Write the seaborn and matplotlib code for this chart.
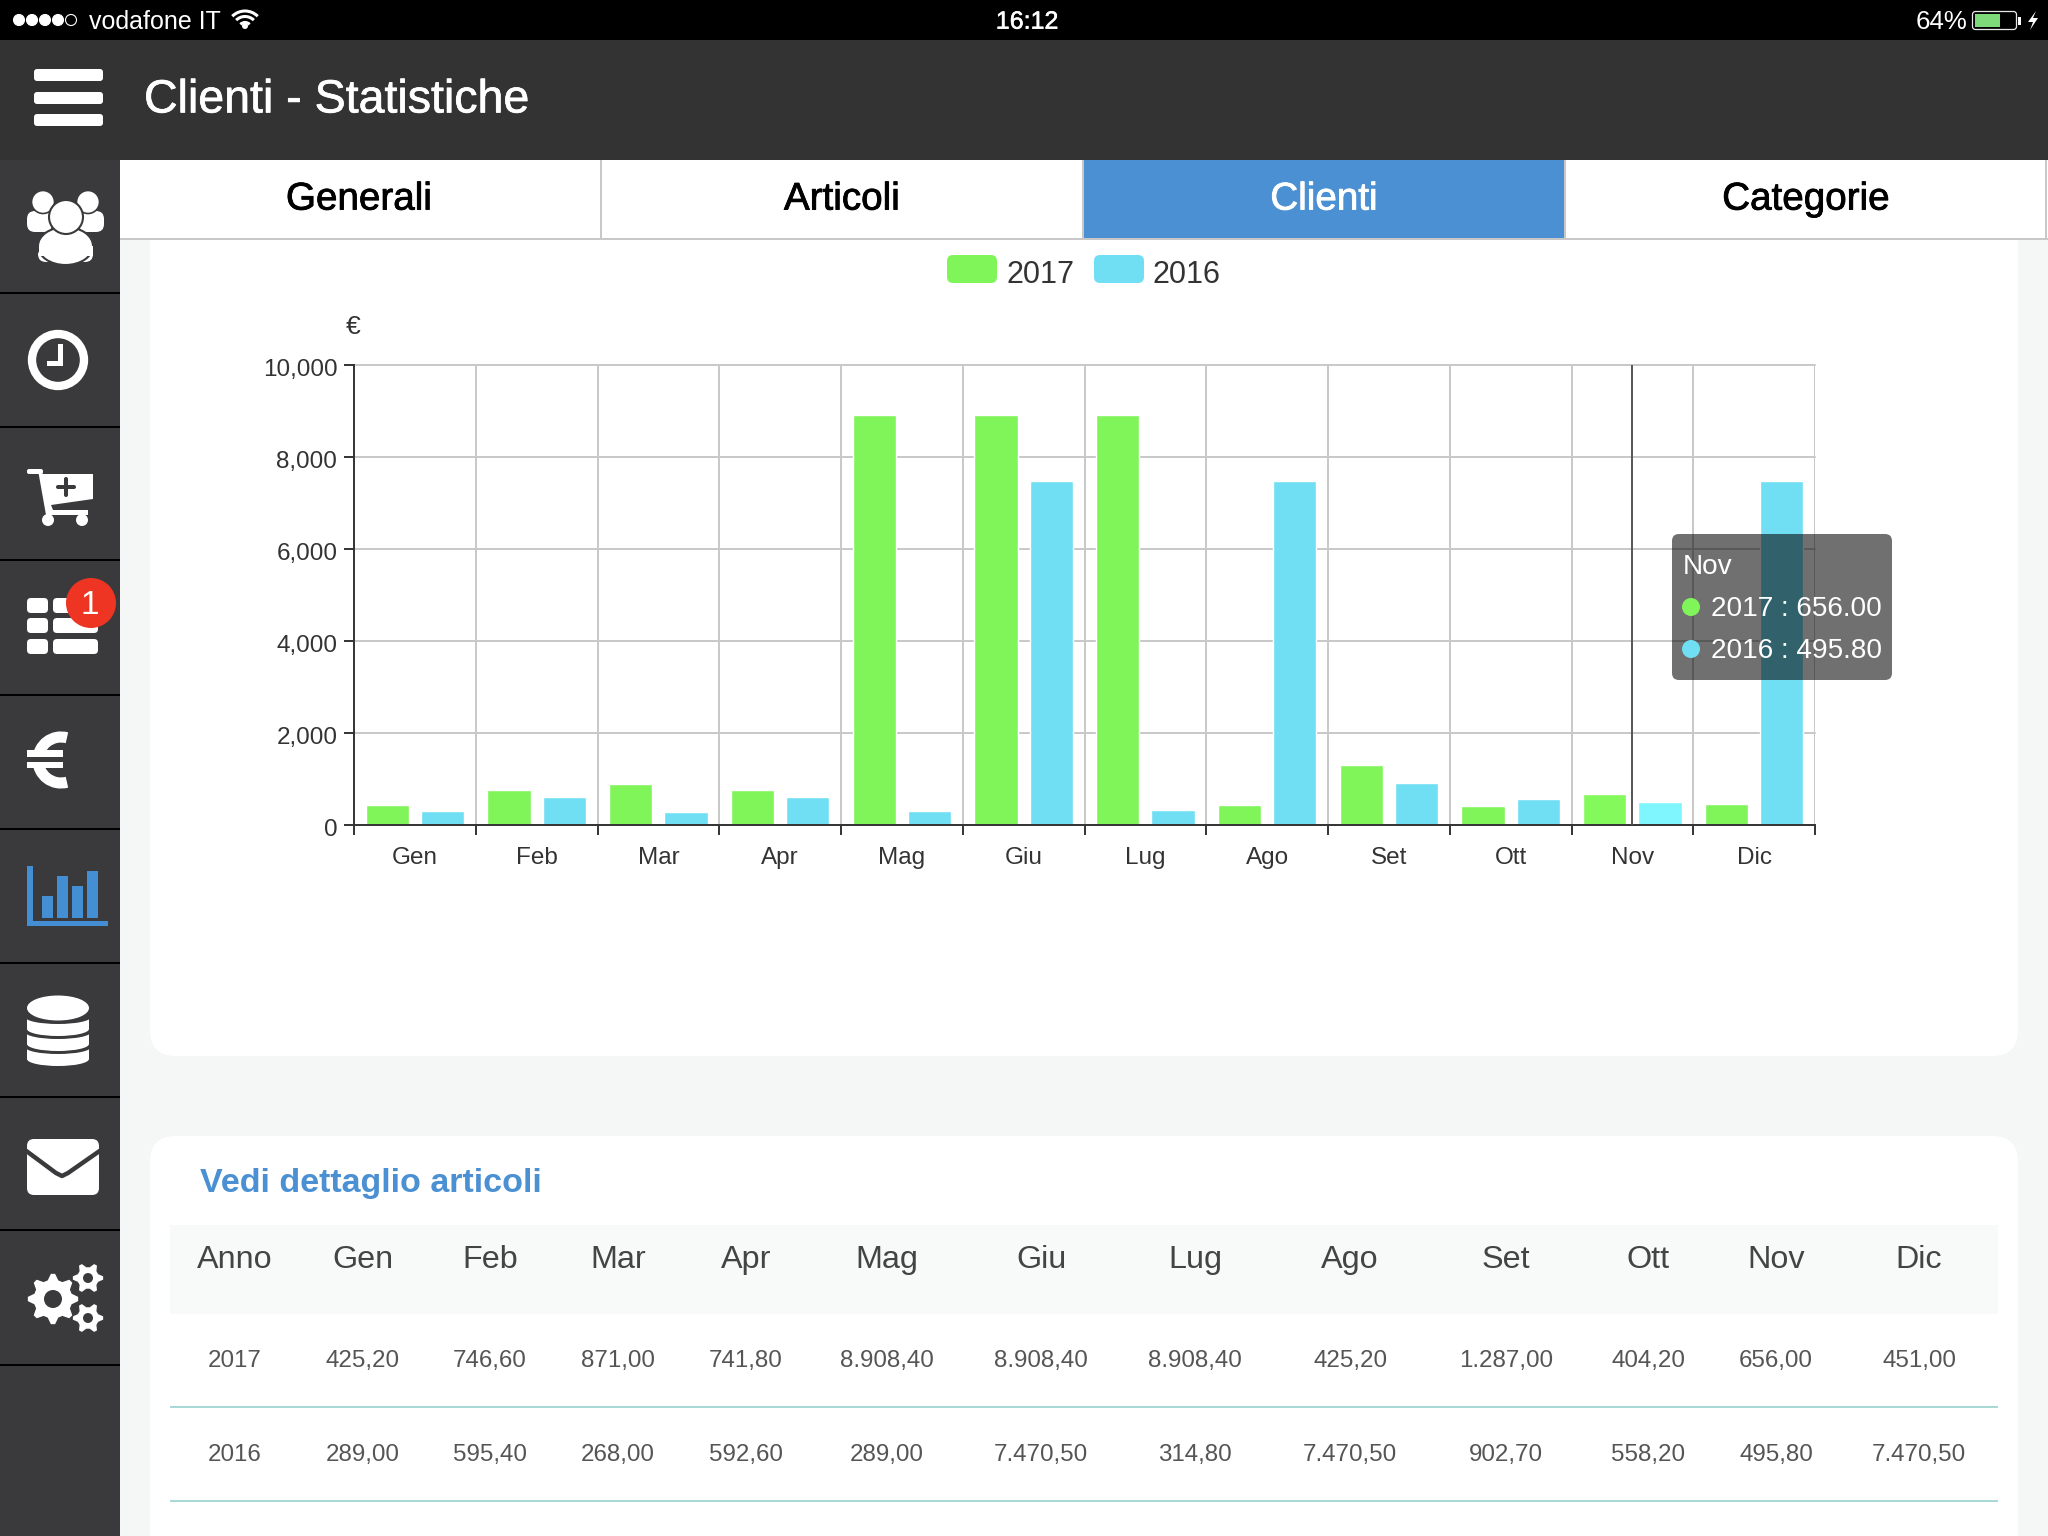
import numpy as np
import pandas as pd
import matplotlib
matplotlib.use("Agg")
import matplotlib.pyplot as plt
import matplotlib.patheffects as pe
import matplotlib.transforms as mtrans
from matplotlib.patches import Rectangle, FancyBboxPatch, Circle, Ellipse, Polygon, Arc
import seaborn as sns

# chart data
mesi = ["Gen", "Feb", "Mar", "Apr", "Mag", "Giu", "Lug", "Ago", "Set", "Ott", "Nov", "Dic"]
valori_2017 = [425.20, 746.60, 871.00, 741.80, 8908.40, 8908.40, 8908.40, 425.20, 1287.00, 404.20, 656.00, 451.00]
valori_2016 = [289.00, 595.40, 268.00, 592.60, 289.00, 7470.50, 314.80, 7470.50, 902.70, 558.20, 495.80, 7470.50]
y_ticks = [0, 2000, 4000, 6000, 8000, 10000]

# table text
intestazione = ["Anno"] + mesi
riga_2017 = ["2017", "425,20", "746,60", "871,00", "741,80", "8.908,40", "8.908,40", "8.908,40",
             "425,20", "1.287,00", "404,20", "656,00", "451,00"]
riga_2016 = ["2016", "289,00", "595,40", "268,00", "592,60", "289,00", "7.470,50", "314,80",
             "7.470,50", "902,70", "558,20", "495,80", "7.470,50"]
tab_labels = ["Generali", "Articoli", "Clienti", "Categorie"]

GREEN = "#80f55a"
BLUE = "#70dff3"
DARK = "#333333"
SIDE = "#3a3a3c"
ACCENT = "#4a90d2"

sns.set_theme(style="white")
plt.rcParams["font.family"] = ["Liberation Sans", "DejaVu Sans"]

W, H = 2048, 1536
fig = plt.figure(figsize=(W / 100, H / 100), dpi=100, facecolor="#f5f7f7")


def px_axes(zorder):
    a = fig.add_axes([0, 0, 1, 1], zorder=zorder)
    a.set_xlim(0, W)
    a.set_ylim(H, 0)
    a.axis("off")
    a.patch.set_alpha(0)
    return a


bg = px_axes(0)
top = px_axes(2)


def box(a, x0, y0, x1, y1, color, r=0, **kw):
    if r:
        a.add_patch(FancyBboxPatch((x0 + r, y0 + r), x1 - x0 - 2 * r, y1 - y0 - 2 * r,
                                   boxstyle=f"round,pad={r},rounding_size={r}",
                                   fc=color, ec="none", **kw))
    else:
        a.add_patch(Rectangle((x0, y0), x1 - x0, y1 - y0, fc=color, ec="none", **kw))


def txt(a, x, y, s, size, color="white", ha="left", stroke=0, **kw):
    # y is the middle of the capitals, so labels in one row line up
    base = y - 1.3 + 0.36 * size * 100 / 72
    t = a.text(x, base, s, fontsize=size, color=color, ha=ha, va="baseline", **kw)
    if stroke:
        t.set_path_effects([pe.withStroke(linewidth=stroke, foreground=color)])


# cards
box(bg, 150, 180, 2018, 1056, "white", r=26)
box(bg, 150, 1136, 2018, 1600, "white", r=26)

# status bar and header
box(top, 0, 0, W, 40, "black")
box(top, 0, 40, W, 160, DARK)
for i, cx in enumerate([19, 32, 45, 58, 71]):
    top.add_patch(Circle((cx, 20), 5.5, fc="white" if i < 4 else "black", ec="white", lw=0.8))
txt(top, 89, 21, "vodafone IT", 18)
top.add_patch(Circle((245, 26), 3, fc="white", ec="none"))
for d in [13, 25, 36]:
    top.add_patch(Arc((245, 29), d, d, theta1=225, theta2=315, ec="white", lw=2.2))
txt(top, 1027, 21, "16:12", 18, ha="center", stroke=0.4)
txt(top, 1916, 21, "64%", 18.6)
box(top, 1972, 11, 2017, 30, "black", r=3)
top.add_patch(FancyBboxPatch((1975, 14), 39, 13, boxstyle="round,pad=2.5,rounding_size=3", fc="none", ec="#e8e8e8", lw=0.9))
box(top, 1975, 14, 2000, 27, "#7ed97a")
box(top, 2018, 17, 2021, 25, "white")
top.add_patch(Polygon([[2036, 11], [2028, 22], [2033, 22], [2030, 30], [2038, 18], [2033, 18]], fc="white", ec="none"))

for y0 in [69, 92, 114]:
    box(top, 34, y0, 103, y0 + 12, "white", r=3)
txt(top, 144, 97, "Clienti - Statistiche", 33.5, stroke=0.5)

# tabs
box(top, 120, 160, W, 239, "white")
box(top, 1083, 160, 1565, 239, ACCENT)
box(top, 120, 238, W, 240, "#c8c8c8")
for x in [601, 1083, 1565, 2046]:
    box(top, x - 1, 160, x + 1, 239, "#c8c8c8")
for cx, lab in zip([359, 842, 1324, 1806], tab_labels):
    txt(top, cx, 197, lab, 27.8, "white" if lab == "Clienti" else "black", ha="center", stroke=0.6)

# sidebar
box(top, 0, 160, 120, H, SIDE)
for y in [293, 427, 560, 695, 829, 963, 1097, 1230, 1365]:
    box(top, 0, y - 1, 120, y + 1, "black")

# people
for x0, x1 in [(27, 52), (79, 104)]:
    box(top, x0, 211, x1, 232, "white", r=8)
for cx in [43, 88]:
    top.add_patch(Circle((cx, 202), 11.5, fc="white", ec=SIDE, lw=1.2))
box(top, 38, 236, 93, 262, "white", r=8)
top.add_patch(Ellipse((65.5, 246), 55, 38, fc="white", ec=SIDE, lw=1.5))
box(top, 38.5, 246, 92.5, 256, "white")
top.add_patch(Circle((66, 217), 17, fc="white", ec=SIDE, lw=1.5))

# clock
top.add_patch(Circle((58, 360), 26, fc="none", ec="white", lw=6))
box(top, 58, 344, 63, 366, "white")
box(top, 47, 361, 63, 366, "white")

# cart
box(top, 27, 469, 43, 474, "white", r=2)
top.add_patch(Polygon([[38, 470], [43, 474], [93, 474], [93, 499], [51, 505], [53, 510], [88, 510],
                       [88, 515], [46, 515]], fc="white", ec="none"))
box(top, 56, 485, 76, 489, SIDE, r=2)
box(top, 64, 477, 68, 497, SIDE, r=2)
top.add_patch(Circle((48, 520), 6, fc="white", ec="none"))
top.add_patch(Circle((82, 520), 6, fc="white", ec="none"))

# table icon with badge
for y0 in [598, 618, 639]:
    box(top, 27, y0, 48, y0 + 15, "white", r=4)
    box(top, 53, y0, 98, y0 + 15, "white", r=4)
top.add_patch(Circle((91, 603), 25, fc="#ee3524", ec="none"))
txt(top, 90, 603, "1", 24, ha="center")

# euro
top.add_patch(Arc((61, 760), 46, 46, theta1=75, theta2=285, ec="white", lw=8))
box(top, 27, 757, 63, 762, SIDE)
box(top, 27, 750, 63, 757, "white")
box(top, 27, 762, 63, 768, "white")

# active chart icon
box(top, 27, 866, 33, 926, "#448ed3")
box(top, 27, 921, 108, 926, "#448ed3")
for x0, y0 in [(42, 896), (57, 876), (72, 886), (87, 871)]:
    box(top, x0, y0, x0 + 11, 918, "#448ed3")

# database
for rect_top, cy in [(1049, 1059), (1034, 1044), (1019, 1029)]:
    box(top, 27, rect_top, 89, cy, "white")
    top.add_patch(Ellipse((58, cy), 62, 14, fc="white", ec="none"))
    top.add_patch(Ellipse((58, rect_top - 2), 66, 14, fc=SIDE, ec="none"))
top.add_patch(Ellipse((58, 1008), 62, 25, fc="white", ec="none"))

# mail
box(top, 27, 1139, 99, 1195, "white", r=7)
top.plot([25, 56, 62, 68, 101], [1150, 1173, 1176, 1173, 1150], color=SIDE, lw=3.2, solid_joinstyle="round")


def gear(a, cx, cy, r_out, r_in, r_hole, teeth):
    ang = np.linspace(0, 2 * np.pi, teeth * 4, endpoint=False) - np.pi / (teeth * 4)
    rad = np.tile([r_out, r_out, r_in, r_in], teeth)
    a.add_patch(Polygon(np.c_[cx + rad * np.cos(ang), cy + rad * np.sin(ang)], fc="white", ec=SIDE, lw=1))
    a.add_patch(Circle((cx, cy), r_hole, fc=SIDE, ec="none"))


gear(top, 88, 1278, 16, 11.5, 5, 6)
gear(top, 88, 1318, 16, 11.5, 5, 6)
gear(top, 53, 1299, 26, 20, 9, 8)

# legend above the chart
box(top, 947, 255, 997, 283, GREEN, r=6)
txt(top, 1007, 273, "2017", 22, DARK)
box(top, 1094, 255, 1144, 283, BLUE, r=6)
txt(top, 1153, 273, "2016", 22, DARK)
txt(top, 353, 326, "€", 19, DARK, ha="center")

# chart
df = pd.DataFrame({
    "mese": mesi * 2,
    "valore": valori_2017 + valori_2016,
    "anno": ["2017"] * len(mesi) + ["2016"] * len(mesi),
})

ax = fig.add_axes([354 / W, 1 - 824.5 / H, (1815 - 354) / W, (824.5 - 364.5) / H], zorder=1)
ax.patch.set_alpha(0)
sns.barplot(data=df, x="mese", y="valore", hue="anno", hue_order=["2017", "2016"],
            palette={"2017": GREEN, "2016": BLUE}, saturation=1, width=0.91, gap=0.22,
            legend=False, ax=ax)
ax.containers[0][10].set_facecolor("#84f95c")
ax.containers[1][10].set_facecolor("#7ff6fd")

ax.set_xlim(-0.5, len(mesi) - 0.5)
ax.set_ylim(0, 10000)
ax.set_xlabel("")
ax.set_ylabel("")
ax.set_yticks(y_ticks)
ax.set_yticklabels([f"{v:,}" for v in y_ticks])
ax.set_xticks(np.arange(len(mesi)))
ax.set_xticks(np.arange(len(mesi) + 1) - 0.5, minor=True)
ax.set_axisbelow(True)
ax.grid(True, axis="y", which="major", color="#c8c8c8", lw=1.4)
ax.grid(True, axis="x", which="minor", color="#c8c8c8", lw=1.4)
ax.grid(False, axis="x", which="major")
for g in ax.get_ygridlines() + ax.get_xgridlines():
    g.set_clip_on(False)
ax.tick_params(axis="x", which="major", length=0, pad=16, labelsize=17.5, labelcolor=DARK)
ax.tick_params(axis="x", which="minor", length=7, width=1.4, color=DARK, bottom=True)
ax.tick_params(axis="y", length=7, width=1.4, color=DARK, pad=5, labelsize=17.5, labelcolor=DARK, left=True)
for lab in ax.get_yticklabels():
    lab.set_transform(lab.get_transform() + mtrans.ScaledTranslation(0, -2 / 72, fig.dpi_scale_trans))
for s in ["top", "right"]:
    ax.spines[s].set_visible(False)
for s in ["left", "bottom"]:
    ax.spines[s].set_color(DARK)
    ax.spines[s].set_linewidth(1.4)
ax.axvline(mesi.index("Nov"), color="#555555", lw=1.4, zorder=3)

# tooltip
box(top, 1672, 534, 1892, 680, "black", r=7, alpha=0.56)
nov = mesi.index("Nov")
txt(top, 1683, 565, "Nov", 20.2)
top.add_patch(Circle((1691, 607), 9, fc=GREEN, ec="none"))
txt(top, 1711, 607, f"2017 : {valori_2017[nov]:.2f}", 20.2)
top.add_patch(Circle((1691, 649), 9, fc=BLUE, ec="none"))
txt(top, 1711, 649, f"2016 : {valori_2016[nov]:.2f}", 20.2)

# table below
txt(top, 200, 1181, "Vedi dettaglio articoli", 24.5, ACCENT, fontweight="bold")
box(top, 170, 1225, 1998, 1314, "#f8f9f9")
col_x = [235, 363, 490, 618, 746, 887, 1041, 1195, 1350, 1506, 1648, 1776, 1919]
for cx, h, a17, a16 in zip(col_x, intestazione, riga_2017, riga_2016):
    txt(top, cx, 1258, h, 23.3, "#444444", ha="center")
    txt(top, cx, 1360, a17, 17.4, "#555555", ha="center")
    txt(top, cx, 1454, a16, 17.4, "#555555", ha="center")
box(top, 170, 1406, 1998, 1408, "#a9d9d6")
box(top, 170, 1500, 1998, 1502, "#a9d9d6")

fig.savefig("out.png", dpi=100)
